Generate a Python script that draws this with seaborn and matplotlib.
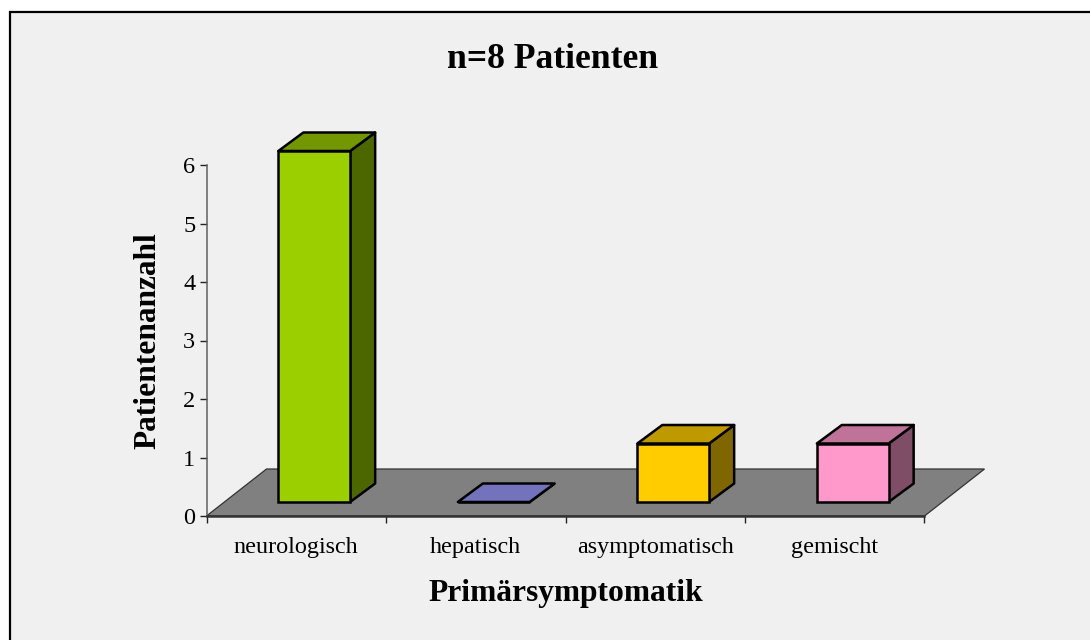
import matplotlib
matplotlib.use("Agg")
import matplotlib.pyplot as plt
from matplotlib.patches import Polygon, Rectangle
from matplotlib.transforms import ScaledTranslation
import pandas as pd
import seaborn as sns

categories = ["neurologisch", "hepatisch", "asymptomatisch", "gemischt"]
patients = [6, 0, 1, 1]
front_colors = ["#9BCF00", "#7373BD", "#FFCC00", "#FF99CC"]
top_colors = ["#729700", "#7373BD", "#BF9900", "#BF7399"]
side_colors = ["#4D6700", "#7373BD", "#806600", "#804D66"]
title = "n=8 Patienten"
xlabel = "Primärsymptomatik"
ylabel = "Patientenanzahl"
yticks = [0, 1, 2, 3, 4, 5, 6]

W, H = 1090, 640
DPI = 100
BG = "#F0F0F0"
FLOOR = "#808080"
EDGE_LW = 1.8

sns.set_theme(style="white")
plt.rcParams["font.family"] = ["Liberation Serif", "DejaVu Serif"]
plt.rcParams["axes.unicode_minus"] = False

fig = plt.figure(figsize=(W / DPI, H / DPI), dpi=DPI, facecolor="white")


def px_rect(left, right, top, bottom):
    return [left / W, 1 - bottom / H, (right - left) / W, (bottom - top) / H]


# panel background: white margin on top/left only, with black frame
fig.add_artist(Rectangle((9.5 / W, -0.02), 1.1, 1.02 - 11.5 / H, transform=fig.transFigure,
                         facecolor=BG, edgecolor="black", linewidth=1.6, zorder=-5))

AX_L, AX_R, AX_T, AX_B = 206.5, 924.5, 165, 516
ax = fig.add_axes(px_rect(AX_L, AX_R, AX_T, AX_B))
ax.patch.set_alpha(0)
ax.set_xlim(-0.5, 3.5)
ax.set_ylim(0, 6)
ax.set_xticks([-0.5, 0.5, 1.5, 2.5, 3.5])
ax.set_xticklabels([])
ax.set_xticks(range(4), categories, minor=True, fontsize=17.4, color="black")
ax.tick_params(axis="x", which="minor", length=0, pad=15)
ax.tick_params(axis="x", which="major", length=5, width=1, color="#222222", bottom=True)
ax.set_yticks(yticks)
ax.tick_params(axis="y", length=5, width=1, color="#222222", left=True, labelsize=17.5,
               labelcolor="black", pad=3)
for s in ("top", "right"):
    ax.spines[s].set_visible(False)
ax.spines["left"].set_color("#606060")
ax.spines["left"].set_linewidth(1.1)
ax.spines["bottom"].set_color("#333333")
ax.spines["bottom"].set_linewidth(1.8)
ax.set_xlabel(xlabel, fontsize=22.7, fontweight="bold", color="black", labelpad=15)
ax.set_ylabel(ylabel, fontsize=22.6, fontweight="bold", color="black", labelpad=15)
fig.text(553 / W, 1 - 60 / H, title, fontsize=25.7, fontweight="bold", color="black",
         ha="center", va="center")

# floor: parallelogram behind the bars, sheared from the x axis
FLOOR_DX, FLOOR_DY = 60 / DPI, 47 / DPI
floor_back = ScaledTranslation(FLOOR_DX, FLOOR_DY, fig.dpi_scale_trans)
x0, x1 = ax.get_xlim()
base = ax.transData
floor_pts = [base.transform((x0, 0)), base.transform((x1, 0)),
             (base + floor_back).transform((x1, 0)), (base + floor_back).transform((x0, 0))]
ax.add_patch(Polygon(floor_pts, closed=True, transform=None, facecolor=FLOOR,
                     edgecolor="#333333", linewidth=0.9, zorder=0.5, clip_on=False))

# bars: front faces from seaborn on an overlay axes shifted into the floor
SHIFT_X, SHIFT_Y = 18, 14
ax2 = fig.add_axes(px_rect(AX_L + SHIFT_X, AX_R + SHIFT_X, AX_T - SHIFT_Y, AX_B - SHIFT_Y))
ax2.patch.set_alpha(0)
df = pd.DataFrame({"cat": categories, "n": patients})
sns.barplot(data=df, x="cat", y="n", hue="cat", palette=front_colors, legend=False,
            width=0.4, ax=ax2, saturation=1, edgecolor="black", linewidth=EDGE_LW, zorder=3)
ax2.set_xlim(-0.5, 3.5)
ax2.set_ylim(0, 6)
ax2.axis("off")

DX, DY = 25 / DPI, 18.5 / DPI
depth = ax2.transData + ScaledTranslation(DX, DY, fig.dpi_scale_trans)
for i, (patch, v) in enumerate(zip(list(ax2.patches), patients)):
    l, r = patch.get_x(), patch.get_x() + patch.get_width()
    tr = ax2.transData
    top = [tr.transform((l, v)), tr.transform((r, v)),
           depth.transform((r, v)), depth.transform((l, v))]
    side = [tr.transform((r, 0)), tr.transform((r, v)),
            depth.transform((r, v)), depth.transform((r, 0))]
    ax2.add_patch(Polygon(side, closed=True, transform=None, facecolor=side_colors[i],
                          edgecolor="black", linewidth=EDGE_LW, joinstyle="round", zorder=2,
                          clip_on=False))
    ax2.add_patch(Polygon(top, closed=True, transform=None, facecolor=top_colors[i],
                          edgecolor="black", linewidth=EDGE_LW, joinstyle="round", zorder=2,
                          clip_on=False))
    patch.set_clip_on(False)

fig.savefig("out.png", dpi=DPI, facecolor=fig.get_facecolor())
